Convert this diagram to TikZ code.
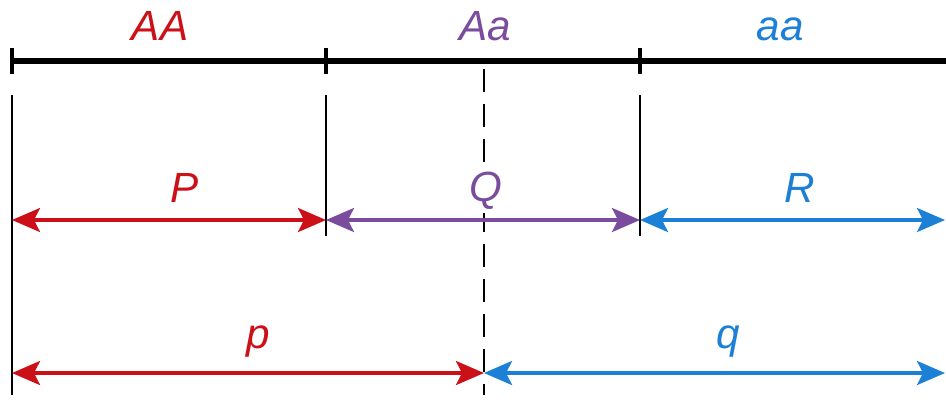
\documentclass[tikz,border=0pt]{standalone}
\usepackage{fontspec}
\setmainfont{Liberation Sans}
\usetikzlibrary{arrows.meta}
\definecolor{cDom}{HTML}{CC1018}
\definecolor{cHet}{HTML}{7B4C9E}
\definecolor{cRec}{HTML}{1C80D6}
\begin{document}
\begin{tikzpicture}[x=0.01cm,y=-0.01cm,
  lbl/.style={font=\fontsize{12}{14}\selectfont\itshape,anchor=base,inner sep=1pt},
  bar/.style={line width=1.6pt,black},
  tickmark/.style={line width=1.1pt,black},
  guide/.style={line width=0.6pt,black},
  midguide/.style={guide,dash pattern=on 0.23cm off 0.12cm},
  dim/.style={{Stealth[length=2.8mm,width=2.4mm,inset=0.6mm]}-{Stealth[length=2.8mm,width=2.4mm,inset=0.6mm]},line width=0.9pt}]
  \useasboundingbox (0,0) rectangle (946,402);
  \fill[white] (0,0) rectangle (946,402);
  % genotype bar (top)
  \coordinate (t0) at (12,61);
  \coordinate (t1) at (326,61);
  \coordinate (t2) at (640,61);
  \coordinate (tend) at (946,61);
  \draw[bar] (t0) -- (tend);
  \foreach \t in {t0,t1,t2}
    \draw[tickmark] ([yshift=0.13cm]\t) -- ([yshift=-0.13cm]\t);
  \node[lbl,cDom] (gAA) at (160,40) {AA};
  \node[lbl,cHet] (gAa) at (485,40) {Aa};
  \node[lbl,cRec] (gaa) at (780,40) {aa};
  % guide lines
  \coordinate (g0) at (12,95);
  \coordinate (g0b) at (12,395);
  \coordinate (g1) at (326,95);
  \coordinate (g1b) at (326,236);
  \coordinate (g2) at (640,95);
  \coordinate (g2b) at (640,236);
  \coordinate (gm) at (484,69);
  \coordinate (gmb) at (484,395);
  \draw[guide] (g0) -- (g0b);
  \draw[guide] (g1) -- (g1b);
  \draw[guide] (g2) -- (g2b);
  \draw[midguide] (gm) -- (gmb);
  % genotype frequencies
  \coordinate (r0) at (12,220);
  \coordinate (r1) at (326,220);
  \coordinate (r2) at (640,220);
  \coordinate (r3) at (945,220);
  \draw[dim,cDom] (r0) -- (r1);
  \draw[dim,cHet] (r1) -- (r2);
  \draw[dim,cRec] (r2) -- (r3);
  \node[lbl,cDom] (fP) at (185,202) {P};
  \node[lbl,cHet,fill=white] (fQ) at (486,201) {Q};
  \node[lbl,cRec] (fR) at (800,202) {R};
  % allele frequencies
  \coordinate (s0) at (12,373);
  \coordinate (s1) at (484,373);
  \coordinate (s2) at (945,373);
  \draw[dim,cDom] (s0) -- (s1);
  \draw[dim,cRec] (s1) -- (s2);
  \node[lbl,cDom] (fp) at (258,348) {p};
  \node[lbl,cRec] (fq) at (728,348) {q};
\end{tikzpicture}
\end{document}
